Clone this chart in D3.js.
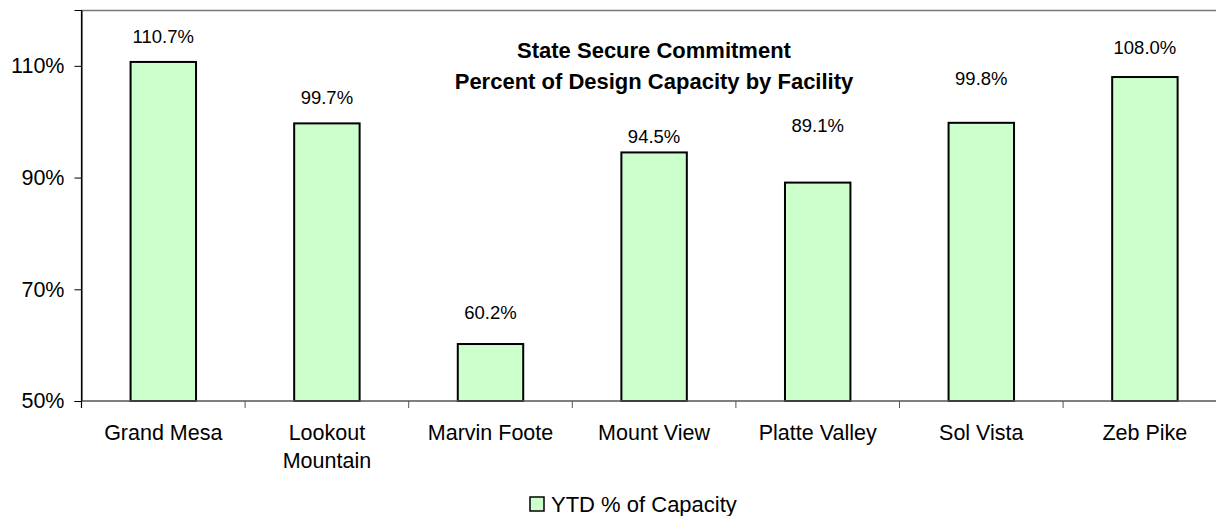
<!doctype html>
<html>
<head>
<meta charset="utf-8">
<title>State Secure Commitment</title>
<script src="https://d3js.org/d3.v7.min.js" charset="utf-8"></script>
<style>
	body{margin:0;background:#fff;}
	svg{display:block;font-family:"Liberation Sans",Arial,sans-serif;}
</style>
</head>
<body>
<div id="chart"></div>
<script>
// facilities (line breaks as in the chart)
var categories = ["Grand Mesa", "Lookout\nMountain", "Marvin Foote", "Mount View", "Platte Valley", "Sol Vista", "Zeb Pike"];
// YTD % of capacity
var values = [110.7, 99.7, 60.2, 94.5, 89.1, 99.8, 108.0];
// level (in %) where each data label sits in the original
var labelLevel = [115.2, 104.4, 65.8, 97.3, 99.4, 107.7, 113.2];
var yTicks = [50, 70, 90, 110];
var seriesName = "YTD % of Capacity";
var titleLines = ["State Secure Commitment", "Percent of Design Capacity by Facility"];

var width = 1216, height = 516;
var plot = {left: 81.5, top: 10, bottom: 401, step: 163.6};

var svg = d3.select("#chart").append("svg")
	.attr("width", width)
	.attr("height", height);

//比例尺
var x = d3.scaleBand()
	.domain(categories)
	.range([plot.left, plot.left + plot.step * categories.length])
	.padding(0);

var y = d3.scaleLinear()
	.domain([50, 120])
	.range([plot.bottom, plot.top]);

var barW = x.bandwidth() * 0.4;

// top border of plot area
svg.append("line")
	.attr("x1", plot.left).attr("x2", width)
	.attr("y1", plot.top + 0.5).attr("y2", plot.top + 0.5)
	.attr("stroke", "#777").attr("stroke-width", 1.5);

// bars
svg.selectAll("rect.bar")
	.data(values)
	.enter()
	.append("rect")
	.attr("class", "bar")
	.attr("x", function(d, i){ return x(categories[i]) + (x.bandwidth() - barW) / 2; })
	.attr("y", function(d){ return y(d); })
	.attr("width", barW)
	.attr("height", function(d){ return y(50) - y(d); })
	.attr("fill", "#CCFFCC")
	.attr("stroke", "#000")
	.attr("stroke-width", 2);

// value labels
svg.selectAll("text.val")
	.data(values)
	.enter()
	.append("text")
	.attr("class", "val")
	.attr("x", function(d, i){ return x(categories[i]) + x.bandwidth() / 2; })
	.attr("y", function(d, i){ return y(labelLevel[i]); })
	.attr("dy", "0.35em")
	.attr("text-anchor", "middle")
	.attr("font-size", "18.5px")
	.attr("fill", "#000")
	.text(function(d){ return d3.format(".1f")(d) + "%"; });

// y axis
var yAxis = svg.append("g")
	.attr("transform", "translate(" + plot.left + ",0)")
	.call(d3.axisLeft(y).tickValues(yTicks).tickSize(7).tickPadding(10)
		.tickFormat(function(d){ return d + "%"; }));
yAxis.selectAll("path,line").attr("stroke", "#000");
yAxis.selectAll("text").attr("font-size", "21.5px").attr("font-family", null).attr("fill", "#000");

// x axis line + ticks at band edges
var xAxis = svg.append("g").attr("class", "xaxis");
xAxis.append("line")
	.attr("x1", plot.left).attr("x2", width)
	.attr("y1", plot.bottom).attr("y2", plot.bottom)
	.attr("stroke", "#555").attr("stroke-width", 1.5);
xAxis.selectAll("line.tk")
	.data(categories)
	.enter()
	.append("line")
	.attr("class", "tk")
	.attr("x1", function(d){ return x(d); })
	.attr("x2", function(d){ return x(d); })
	.attr("y1", plot.bottom).attr("y2", plot.bottom + 7)
	.attr("stroke", "#555");

// category labels
var cat = xAxis.selectAll("text.cat")
	.data(categories)
	.enter()
	.append("text")
	.attr("class", "cat")
	.attr("text-anchor", "middle")
	.attr("font-size", "21.5px")
	.attr("fill", "#000")
	.attr("x", function(d){ return x(d) + x.bandwidth() / 2; })
	.attr("y", 440);
cat.selectAll("tspan")
	.data(function(d){ return d.split("\n").map(function(t){ return {t: t, x: x(d) + x.bandwidth() / 2}; }); })
	.enter()
	.append("tspan")
	.attr("x", function(d){ return d.x; })
	.attr("dy", function(d, i){ return i ? 28 : 0; })
	.text(function(d){ return d.t; });

// left axis drawn on top in black
svg.append("line")
	.attr("x1", plot.left).attr("x2", plot.left)
	.attr("y1", plot.top).attr("y2", plot.bottom + 7)
	.attr("stroke", "#000").attr("stroke-width", 1.2);

// title
svg.selectAll("text.title")
	.data(titleLines)
	.enter()
	.append("text")
	.attr("class", "title")
	.attr("x", 654)
	.attr("y", function(d, i){ return 50 + i * 31; })
	.attr("dy", "0.35em")
	.attr("text-anchor", "middle")
	.attr("font-size", "22px")
	.attr("font-weight", "bold")
	.text(function(d){ return d; });

// legend
var lg = svg.append("g").attr("transform", "translate(530,497)");
lg.append("rect")
	.attr("width", 14).attr("height", 14)
	.attr("fill", "#CCFFCC").attr("stroke", "#000").attr("stroke-width", 1.5);
lg.append("text")
	.attr("x", 21).attr("y", 7)
	.attr("dy", "0.35em")
	.attr("font-size", "22px")
	.text(seriesName);
</script>
</body>
</html>
